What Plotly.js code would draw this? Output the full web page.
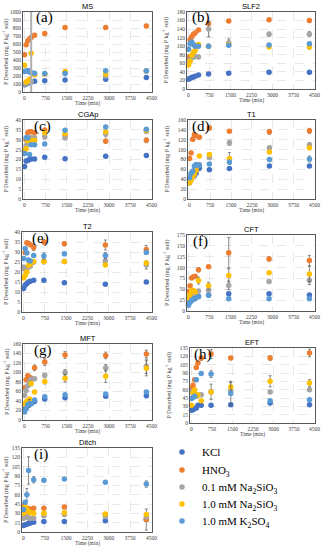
<!DOCTYPE html>
<html><head><meta charset="utf-8">
<script src="https://cdn.plot.ly/plotly-3.0.1.min.js"></script>
<style>html,body{margin:0;padding:0;background:#fff;}#chart{width:323px;height:550px;}</style>
</head><body><div id="chart"></div>
<script>
// ---- data ----
const times = [5, 60, 120, 180, 240, 360, 720, 1440, 2880, 4320];
const xTicks = [0, 750, 1500, 2250, 3000, 3750, 4500];
const seriesNames = ['KCl', 'HNO<sub>3</sub>', '0.1 mM Na<sub>2</sub>SiO<sub>3</sub>', '1.0 mM Na<sub>2</sub>SiO<sub>3</sub>', '1.0 mM K<sub>2</sub>SO<sub>4</sub>'];
const panelNames = ['MS', 'SLF2', 'CGAp', 'T1', 'T2', 'CFT', 'MFT', 'EFT', 'Ditch'];
const panelLetters = ['(a)', '(b)', '(c)', '(d)', '(e)', '(f)', '(g)', '(h)', '(i)'];
const yMax = [1000, 180, 40, 160, 40, 175, 160, 135, 135];
const yStep = [100, 20, 5, 20, 5, 25, 20, 15, 15];

// (a) MS
const ms_kcl   = [90, 100, 110, 120, 125, 135, 140, 150, 160, 180];
const ms_hno3  = [465, 590, 640, 660, 680, 710, 730, 805, 805, 825];
const ms_na01  = [100, 110, 120, 125, 130, 220, 225, 240, 200, 260];
const ms_na10  = [335, 125, 140, 160, 485, 215, 225, 255, 225, 265];
const ms_k2so4 = [255, 260, 270, 250, 240, 235, 230, 230, 265, 265];
const ms_hno3_err = [0, 0, 0, 0, 0, 20, 15, 20, 20, 20];
// (b) SLF2
const slf_kcl   = [23, 25, 27, 28, 30, 33, 35, 37, 39, 39];
const slf_hno3  = [75, 115, 122, 128, 131, 138, 153, 159, 162, 160];
const slf_na01  = [62, 68, 73, 75, 76, 75, 140, 108, 128, 128];
const slf_na10  = [56, 65, 79, 86, 90, 104, 100, 104, 98, 98];
const slf_k2so4 = [93, 106, 110, 104, 100, 100, 100, 102, 103, 106];
const slf_hno3_err = [0, 0, 0, 3, 3, 0, 4, 3, 0, 4];
const slf_na01_err = [0, 0, 0, 0, 0, 4, 18, 9, 5, 6];
const slf_na10_err = [0, 0, 0, 0, 0, 0, 5, 0, 0, 5];
// (c) CGAp
const cga_kcl   = [16.5, 19.3, 19.5, 20, 20.2, 20.2, 21.2, 20.4, 21.7, 22.0];
const cga_hno3  = [24.5, 30, 33.5, 34, 34, 33.5, 35, 32, 29.3, 29.7];
const cga_na01  = [25, 27, 28, 30, 31, 31, 31.5, 31, 33, 34.2];
const cga_na10  = [24, 25.5, 29.5, 29.7, 29.8, 29.7, 33.5, 33, 34, 34.8];
const cga_k2so4 = [23, 31, 31, 22.5, 27.5, 27.5, 27.8, 34.8, 36.5, 35.3];
const cga_hno3_err = [0, 0, 0, 0, 0, 0.8, 0, 0, 1, 1.2];
const cga_na01_err = [0, 0, 0, 0, 0, 0, 1, 1, 1.5, 1];
// (d) T1
const t1_kcl   = [33, 40, 45, 47, 52, 63, 59, 62, 67, 67];
const t1_hno3  = [82, 93, 121, 130, 128, 125, 144, 137, 136, 138];
const t1_na01  = [40, 48, 52, 58, 62, 70, 84, 114, 104, 110];
const t1_na10  = [33, 38, 45, 50, 58, 87, 90, 82, 95, 104];
const t1_k2so4 = [43, 52, 56, 67, 70, 68, 71, 75, 80, 81];
const t1_kcl_err   = [0, 0, 0, 0, 0, 6, 0, 0, 0, 0];
const t1_hno3_err  = [0, 0, 4, 5, 0, 3, 4, 0, 5, 5];
const t1_na01_err  = [0, 0, 0, 0, 0, 0, 3, 5, 3, 4];
const t1_na10_err  = [0, 0, 0, 0, 0, 0, 3, 12, 0, 4];
const t1_k2so4_err = [0, 0, 0, 0, 0, 3, 0, 0, 0, 6];
// (e) T2
const t2_kcl   = [11.7, 13.4, 14.2, 15, 15.4, 15.9, 15.9, 14.6, 13.9, 15];
const t2_hno3  = [21.7, 29.8, 34.6, 34.2, 33.6, 32.3, 35, 34.1, 33.5, 31.3];
const t2_na01  = [22.5, 21.5, 22, 22.5, 23, 25, 25.5, 25.2, 25.5, 23.5];
const t2_na10  = [17, 18.4, 20, 23.4, 24, 25.2, 25.2, 25.2, 23.5, 24.5];
const t2_k2so4 = [26.8, 31.8, 29.5, 26, 25.5, 28.3, 28, 29.1, 28.2, 29.8];
const t2_hno3_err  = [0, 0, 0, 0, 0, 1.5, 1, 1, 2.5, 2];
const t2_na01_err  = [0, 0, 0, 0, 0, 1, 1.5, 1, 1.5, 2];
const t2_k2so4_err = [0, 0, 0, 0, 0, 1, 1.5, 0, 1.5, 1];
// (f) CFT
const cft_kcl   = [17, 22, 26, 28, 30, 34, 37, 40, 40, 37];
const cft_hno3  = [45, 58, 76, 79, 80, 95, 102, 134, 120, 116];
const cft_na01  = [30, 35, 40, 42, 44, 46, 48, 59, 68, 71];
const cft_na10  = [29, 38, 48, 47, 44, 70, 58, 82, 88, 85];
const cft_k2so4 = [13, 20, 25, 27, 28, 33, 36, 28, 28, 28];
const cft_hno3_err = [0, 0, 0, 0, 0, 5, 0, 35, 5, 12];
const cft_na01_err = [0, 0, 0, 0, 0, 0, 0, 10, 3, 10];
const cft_na10_err = [0, 0, 0, 0, 0, 8, 8, 15, 0, 18];
// (g) MFT
const mft_kcl   = [22, 25, 30, 33, 35, 39, 44, 47, 50, 51];
const mft_hno3  = [68, 85, 93, 90, 88, 110, 122, 137, 136, 139];
const mft_na01  = [52, 62, 72, 80, 86, 87, 94, 100, 110, 113];
const mft_na10  = [33, 38, 41, 44, 77, 59, 81, 88, 92, 109];
const mft_k2so4 = [17, 24, 32, 35, 34, 42, 49, 53, 55, 59];
const mft_hno3_err  = [0, 0, 0, 0, 0, 6, 7, 7, 7, 8];
const mft_na01_err  = [0, 0, 0, 0, 0, 3, 4, 6, 7, 15];
const mft_na10_err  = [0, 0, 0, 0, 5, 0, 5, 8, 13, 16];
const mft_k2so4_err = [0, 0, 0, 8, 0, 0, 0, 0, 0, 0];
// (h) EFT
const eft_kcl   = [23, 24, 26, 27, 32, 32, 32, 33, 36, 33];
const eft_hno3  = [62, 68, 78, 100, 108, 117, 124, 117, 117, 126];
const eft_na01  = [57, 55, 52, 48, 50, 51, 56, 58, 56, 60];
const eft_na10  = [32, 54, 60, 50, 51, 40, 56, 65, 75, 72];
const eft_k2so4 = [44, 46, 48, 78, null, 89, 88, 53, 40, 42];
const eft_hno3_err  = [0, 0, 0, 0, 0, 4, 8, 3, 4, 7];
const eft_na01_err  = [0, 0, 0, 0, 0, 0, 3, 3, 0, 3];
const eft_na10_err  = [0, 0, 0, 0, 0, 0, 14, 10, 10, 6];
const eft_k2so4_err = [0, 0, 0, 0, 0, 0, 6, 20, 0, 0];
// (i) Ditch
const dit_kcl   = [10.5, 11.5, 12.5, 13.5, 14.5, 15.5, 17, 17, 18, 20];
const dit_hno3  = [43, 40, 38, 36, 37, 38, 38, 40, 28, 20];
const dit_na01  = [22, 24, 25, 22, 22, 22, 26, 28, 25, 24];
const dit_na10  = [30, 40, 36, 33, 31, 30, 30, 31, 29, 28];
const dit_k2so4 = [36, 48, 60, 99, null, 84, 83, 85, 80, 77];
const dit_hno3_err  = [0, 0, 0, 0, 0, 0, 0, 0, 0, 17];
const dit_k2so4_err = [0, 0, 10, 22, 0, 5, 3, 0, 2, 5];

const panelData = [
  [ms_kcl, ms_hno3, ms_na01, ms_na10, ms_k2so4],
  [slf_kcl, slf_hno3, slf_na01, slf_na10, slf_k2so4],
  [cga_kcl, cga_hno3, cga_na01, cga_na10, cga_k2so4],
  [t1_kcl, t1_hno3, t1_na01, t1_na10, t1_k2so4],
  [t2_kcl, t2_hno3, t2_na01, t2_na10, t2_k2so4],
  [cft_kcl, cft_hno3, cft_na01, cft_na10, cft_k2so4],
  [mft_kcl, mft_hno3, mft_na01, mft_na10, mft_k2so4],
  [eft_kcl, eft_hno3, eft_na01, eft_na10, eft_k2so4],
  [dit_kcl, dit_hno3, dit_na01, dit_na10, dit_k2so4]
];
const panelErr = [
  [null, ms_hno3_err, null, null, null],
  [null, slf_hno3_err, slf_na01_err, slf_na10_err, null],
  [null, cga_hno3_err, cga_na01_err, null, null],
  [t1_kcl_err, t1_hno3_err, t1_na01_err, t1_na10_err, t1_k2so4_err],
  [null, t2_hno3_err, t2_na01_err, null, t2_k2so4_err],
  [null, cft_hno3_err, cft_na01_err, cft_na10_err, null],
  [null, mft_hno3_err, mft_na01_err, mft_na10_err, mft_k2so4_err],
  [null, eft_hno3_err, eft_na01_err, eft_na10_err, eft_k2so4_err],
  [null, dit_hno3_err, null, null, dit_k2so4_err]
];

// ---- styling / layout ----
const colors = ['#4472C4', '#ED7D31', '#A5A5A5', '#FFC000', '#5B9BD5'];
const W = 323, H = 550;
// [left, right, top, bottom] in px
const boxes = [
  [23, 152, 12, 92], [187, 315, 12, 89],
  [23, 152, 120, 199], [188, 315, 120, 199],
  [22, 152, 232, 312], [187, 315, 235, 311],
  [23, 152, 344, 420], [190, 315, 348, 423],
  [22, 152, 448, 532]
];
const letterOff = [11, 3, 9, 2, 8, 4, 9, 2, 10];
const legendRowY = [452, 470, 487, 504, 521];
const serif = 'Liberation Serif, Times New Roman, serif';
const sans = 'Liberation Sans, Arial, sans-serif';

const traces = [];
const layout = {
  width: W, height: H, margin: {l: 0, r: 0, t: 0, b: 0},
  paper_bgcolor: '#fff', plot_bgcolor: '#fff',
  showlegend: true,
  annotations: [], shapes: []
};
for (let s = 0; s < 5; s++) {
  layout[s === 0 ? 'legend' : 'legend' + (s + 1)] = {
    x: 162 / W, y: 1 - legendRowY[s] / H, xanchor: 'left', yanchor: 'middle',
    font: {family: serif, size: 11, color: '#000'}, bgcolor: 'rgba(0,0,0,0)',
    borderwidth: 0, itemwidth: 30
  };
}

for (let p = 0; p < 9; p++) {
  const n = p === 0 ? '' : String(p + 1);
  const [l, r, t, b] = boxes[p];
  for (let s = 0; s < 5; s++) {
    const err = panelErr[p][s];
    traces.push({
      type: 'scatter', mode: 'markers', x: times, y: panelData[p][s],
      xaxis: 'x' + n, yaxis: 'y' + n, name: seriesNames[s], legendgroup: 's' + s,
      legend: s === 0 ? 'legend' : 'legend' + (s + 1),
      showlegend: p === 0, cliponaxis: false,
      marker: {color: colors[s], size: 5.5},
      error_y: err ? {type: 'data', array: err, visible: true, color: '#595959', thickness: 0.7, width: 1.5} : {visible: false}
    });
  }
  const axCommon = {
    showgrid: true, gridcolor: '#d9d9d9', griddash: 'dash', gridwidth: 0.6,
    showline: true, mirror: true, linecolor: '#595959', linewidth: 1,
    zeroline: false, ticks: '', fixedrange: true,
    tickfont: {family: serif, size: 5.5, color: '#404040'}
  };
  layout['xaxis' + n] = Object.assign({}, axCommon, {
    domain: [l / W, r / W], range: [-50, 4520], tickmode: 'array', tickvals: xTicks,
    anchor: 'y' + n
  });
  layout['yaxis' + n] = Object.assign({}, axCommon, {
    domain: [1 - b / H, 1 - t / H], range: [0, yMax[p]], tickmode: 'linear', tick0: 0, dtick: yStep[p],
    anchor: 'x' + n
  });
  const cx = (l + r) / 2 / W;
  const yTitleOff = (p % 2 === 0) ? 17 : 21;
  layout.annotations.push({text: panelNames[p], xref: 'paper', yref: 'paper', x: cx, y: 1 - (t - 5.5) / H,
    xanchor: 'center', yanchor: 'middle', showarrow: false, font: {family: sans, size: 7.5, color: '#000'}});
  layout.annotations.push({text: panelLetters[p], xref: 'paper', yref: 'paper', x: (l + letterOff[p]) / W, y: 1 - (t + 6) / H,
    xanchor: 'left', yanchor: 'middle', showarrow: false, font: {family: serif, size: 15, color: '#000'}});
  layout.annotations.push({text: 'Time (min)', xref: 'paper', yref: 'paper', x: cx, y: 1 - (b + 11.5) / H,
    xanchor: 'center', yanchor: 'middle', showarrow: false, font: {family: serif, size: 5.5, color: '#404040'}});
  layout.annotations.push({text: 'P Desorbed (mg P kg<sup>-1</sup> soil)', xref: 'paper', yref: 'paper',
    x: (l - yTitleOff) / W, y: 1 - (t + b) / 2 / H, textangle: -90,
    xanchor: 'center', yanchor: 'middle', showarrow: false, font: {family: serif, size: 6, color: '#404040'}});
}
// stray grey vertical line in panel (a)
layout.shapes.push({type: 'line', xref: 'x', yref: 'y domain', x0: times[4], x1: times[4], y0: 0, y1: 1,
  line: {color: '#b0b0b0', width: 2}});

Plotly.newPlot('chart', traces, layout, {displayModeBar: false, staticPlot: true});
</script></body></html>
